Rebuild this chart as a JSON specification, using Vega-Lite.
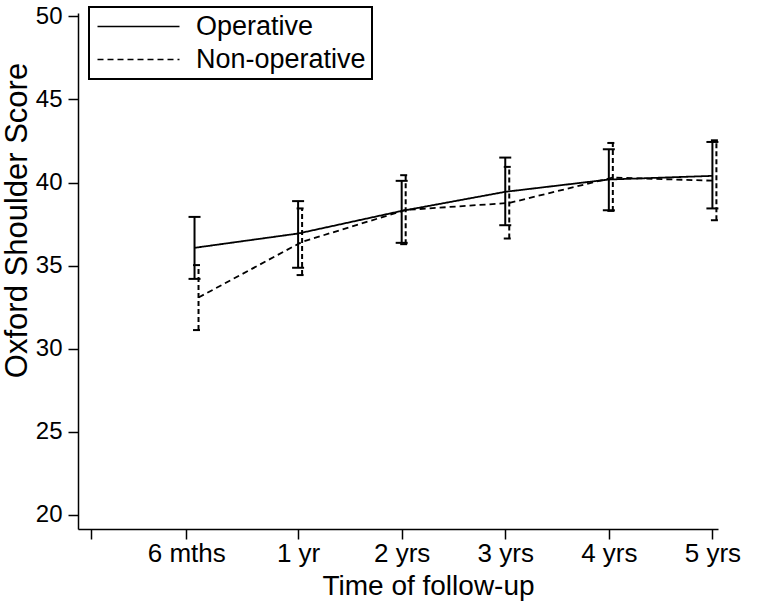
{
  "$schema": "https://vega.github.io/schema/vega-lite/v6.json",
  "width": 640,
  "height": 516,
  "autosize": {"type": "none"},
  "padding": {"left": 78, "top": 13, "right": 62, "bottom": 76},
  "background": "white",
  "config": {
    "view": {"stroke": null},
    "font": "Liberation Sans",
    "axis": {
      "domainColor": "black", "tickColor": "black", "labelColor": "black", "titleColor": "black",
      "grid": false, "domainWidth": 1.5, "tickWidth": 1.5, "tickSize": 10,
      "labelFont": "Liberation Sans", "titleFont": "Liberation Sans", "titleFontWeight": "normal"
    },
    "legend": {"strokeWidth": 2}
  },
  "data": {
    "values": [
      {"group": "Operative", "t": 1, "mean": 36.07, "lo": 34.20, "hi": 37.93},
      {"group": "Operative", "t": 2, "mean": 36.93, "lo": 34.87, "hi": 38.88},
      {"group": "Operative", "t": 3, "mean": 38.29, "lo": 36.37, "hi": 40.10},
      {"group": "Operative", "t": 4, "mean": 39.44, "lo": 37.43, "hi": 41.50},
      {"group": "Operative", "t": 5, "mean": 40.18, "lo": 38.33, "hi": 42.00},
      {"group": "Operative", "t": 6, "mean": 40.40, "lo": 38.44, "hi": 42.44},
      {"group": "Non-operative", "t": 1, "mean": 33.08, "lo": 31.12, "hi": 35.03},
      {"group": "Non-operative", "t": 2, "mean": 36.43, "lo": 34.43, "hi": 38.44},
      {"group": "Non-operative", "t": 3, "mean": 38.35, "lo": 36.29, "hi": 40.44},
      {"group": "Non-operative", "t": 4, "mean": 38.77, "lo": 36.63, "hi": 40.94},
      {"group": "Non-operative", "t": 5, "mean": 40.30, "lo": 38.29, "hi": 42.38},
      {"group": "Non-operative", "t": 6, "mean": 40.10, "lo": 37.73, "hi": 42.54}
    ]
  },
  "encoding": {
    "x": {
      "field": "t", "type": "quantitative",
      "scale": {"domain": [-0.125, 6.054], "nice": false, "zero": false},
      "axis": {
        "values": [0, 0.92, 2, 3, 4, 5, 6],
        "labelExpr": "datum.value < 0.5 ? '' : (datum.value < 1.5 ? '6 mths' : (datum.value < 2.5 ? '1 yr' : (datum.value - 1) + ' yrs'))",
        "labelFontSize": 26, "labelPadding": 1, "labelFlush": false, "labelOverlap": false,
        "title": "Time of follow-up", "titleFontSize": 28,
        "titleX": 350, "titleY": 57, "titleBaseline": "middle", "titleAlign": "center"
      }
    }
  },
  "layer": [
    {
      "transform": [{"filter": "datum.group == 'Operative'"}],
      "mark": {"type": "line", "color": "black", "strokeWidth": 1.8},
      "encoding": {
        "y": {
          "field": "mean", "type": "quantitative",
          "scale": {"domain": [19.15, 50.2], "nice": false, "zero": false},
          "axis": {
            "values": [20, 25, 30, 35, 40, 45, 50],
            "labelFontSize": 24, "labelPadding": 6,
            "title": "Oxford Shoulder Score", "titleFontSize": 31, "titleAngle": 270,
            "titleX": -61, "titleY": 207, "titleBaseline": "middle", "titleAlign": "center"
          }
        },
        "strokeDash": {
          "field": "group", "type": "nominal",
          "scale": {"domain": ["Operative", "Non-operative"], "range": [[1, 0], [6, 4]]},
          "legend": {
            "title": null, "orient": "none", "legendX": 11, "legendY": -6,
            "symbolType": "M-5.125,0H5.125", "symbolSize": 256, "symbolStrokeWidth": 1.5,
            "symbolStrokeColor": "black", "symbolOffset": 30, "labelOffset": 44,
            "labelFontSize": 27, "labelFont": "Liberation Sans", "labelColor": "black", "labelLimit": 400,
            "strokeColor": "black", "fillColor": "white", "padding": 6, "rowPadding": 5
          }
        }
      }
    },
    {
      "transform": [{"filter": "datum.group == 'Non-operative'"}],
      "mark": {"type": "line", "color": "black", "strokeWidth": 1.8, "xOffset": 4},
      "encoding": {
        "y": {"field": "mean", "type": "quantitative"},
        "strokeDash": {"field": "group", "type": "nominal"}
      }
    },
    {
      "transform": [{"filter": "datum.group == 'Operative'"}],
      "mark": {"type": "rule", "color": "black", "strokeWidth": 2},
      "encoding": {
        "y": {"field": "lo", "type": "quantitative"},
        "y2": {"field": "hi"}
      }
    },
    {
      "transform": [{"filter": "datum.group == 'Non-operative'"}],
      "mark": {"type": "rule", "color": "black", "strokeWidth": 2, "strokeDash": [5, 3], "xOffset": 4},
      "encoding": {
        "y": {"field": "lo", "type": "quantitative"},
        "y2": {"field": "hi"}
      }
    },
    {
      "transform": [{"filter": "datum.group == 'Operative'"}],
      "mark": {"type": "tick", "orient": "horizontal", "color": "black", "size": 12, "thickness": 2, "opacity": 1},
      "encoding": {"y": {"field": "hi", "type": "quantitative"}}
    },
    {
      "transform": [{"filter": "datum.group == 'Operative'"}],
      "mark": {"type": "tick", "orient": "horizontal", "color": "black", "size": 12, "thickness": 2, "opacity": 1},
      "encoding": {"y": {"field": "lo", "type": "quantitative"}}
    },
    {
      "transform": [{"filter": "datum.group == 'Non-operative'"}],
      "mark": {"type": "tick", "orient": "horizontal", "color": "black", "size": 7, "thickness": 2, "opacity": 1, "xOffset": 2},
      "encoding": {"y": {"field": "hi", "type": "quantitative"}}
    },
    {
      "transform": [{"filter": "datum.group == 'Non-operative'"}],
      "mark": {"type": "tick", "orient": "horizontal", "color": "black", "size": 7, "thickness": 2, "opacity": 1, "xOffset": 2},
      "encoding": {"y": {"field": "lo", "type": "quantitative"}}
    }
  ]
}
